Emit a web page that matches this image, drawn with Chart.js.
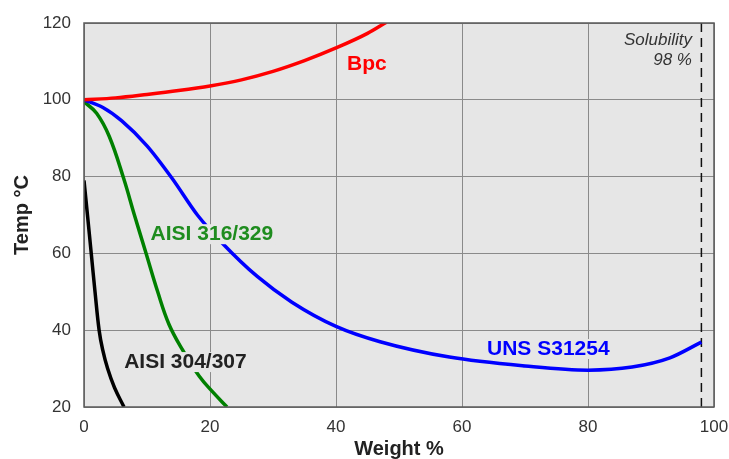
<!DOCTYPE html>
<html>
<head>
<meta charset="utf-8">
<script src="https://cdn.jsdelivr.net/npm/chart.js@4"></script>
<style>
  html, body { margin: 0; padding: 0; background: #fff; }
  #wrap { width: 729px; height: 459px; }
</style>
</head>
<body>
<div id="wrap"><canvas id="chart"></canvas></div>
<script>
// curves, [weight %, temp °C]
const bpc = [[0, 100], [5, 100.5], [10, 101.4], [15, 102.4], [20, 103.6], [25, 105.2], [30, 107.4], [35, 110.2], [40, 113.5], [45, 117.3], [48, 120.2]];
const uns = [[0, 100], [3, 98], [6, 94.5], [10, 88], [14, 79.5], [18, 70], [22, 62.6], [27.5, 54], [33, 47.3], [40, 41], [47, 37], [58, 33], [70, 30.7], [80, 29.6], [87, 30.4], [93, 32.8], [98, 36.9]];
const aisi316 = [[0, 99.5], [2, 96.5], [4, 90.5], [6.3, 79.5], [8, 70], [9.8, 60.3], [11.7, 50], [13.5, 41.5], [15.6, 35], [18.3, 28], [20.5, 23.8], [22.7, 20]];
const aisi304 = [[0, 79], [0.55, 70], [1.15, 60], [1.75, 50], [2.4, 40], [2.95, 35], [3.75, 30], [4.85, 25], [6.35, 20]];
const solubility = [[98, 20], [98, 120]];

const xTicks = [0, 20, 40, 60, 80, 100];
const yTicks = [20, 40, 60, 80, 100, 120];

function pts(arr) {
  return arr.map(p => ({ x: p[0], y: p[1] }));
}

// labels on the plot, drawn with a patch of background behind them
const labels = [
  { text: 'Bpc', x: 44.9, y: 109.2, color: '#ff0000' },
  { text: 'AISI 316/329', x: 20.3, y: 65, color: '#1e8c1e' },
  { text: 'UNS S31254', x: 73.7, y: 35.1, color: '#0000ff' },
  { text: 'AISI 304/307', x: 16.1, y: 31.7, color: '#222222' }
];

const plotBg = {
  id: 'plotBg',
  beforeDraw(chart) {
    const { ctx, chartArea: a } = chart;
    ctx.save();
    ctx.fillStyle = '#e6e6e6';
    ctx.fillRect(a.left, a.top, a.right - a.left, a.bottom - a.top);
    ctx.restore();
  },
  afterDatasetsDraw(chart) {
    const { ctx, scales } = chart;
    const a = chart.chartArea;
    ctx.save();
    ctx.font = 'bold 21px "Liberation Sans", Arial, sans-serif';
    ctx.textAlign = 'center';
    ctx.textBaseline = 'middle';
    labels.forEach(l => {
      const px = scales.x.getPixelForValue(l.x);
      const py = scales.y.getPixelForValue(l.y);
      const w = ctx.measureText(l.text).width;
      ctx.fillStyle = '#e6e6e6';
      ctx.fillRect(px - w / 2 - 2, py - 10, w + 4, 20);
      ctx.fillStyle = l.color;
      ctx.fillText(l.text, px, py);
    });
    ctx.font = 'italic 17px "Liberation Sans", Arial, sans-serif';
    ctx.textAlign = 'right';
    ctx.fillStyle = '#333';
    const rx = scales.x.getPixelForValue(96.5);
    ctx.fillText('Solubility', rx, a.top + 17);
    ctx.fillText('98 %', rx, a.top + 37);
    // plot frame
    ctx.strokeStyle = '#5a5a5a';
    ctx.lineWidth = 1.5;
    ctx.strokeRect(a.left, a.top, a.right - a.left, a.bottom - a.top);
    ctx.restore();
  }
};

const line = (data, color, smooth) => ({
  data: pts(data),
  borderColor: color,
  borderWidth: 3.5,
  pointRadius: 0,
  showLine: true,
  fill: false,
  tension: 0.4,
  cubicInterpolationMode: smooth ? 'default' : 'monotone'
});

const tickFont = { size: 17, family: '"Liberation Sans", Arial' };
const titleFont = { size: 20, weight: 'bold', family: '"Liberation Sans", Arial', lineHeight: 1.0 };

const config = {
  type: 'scatter',
  data: {
    datasets: [
      line(bpc, '#ff0000'),
      line(uns, '#0000ff'),
      line(aisi316, '#008000', true),
      line(aisi304, '#000000', true),
      {
        data: pts(solubility),
        borderColor: '#111',
        borderWidth: 1.5,
        borderDash: [9, 6],
        pointRadius: 0,
        showLine: true
      }
    ]
  },
  options: {
    responsive: true,
    maintainAspectRatio: false,
    animation: false,
    layout: { padding: { top: 23, right: 15, left: 0, bottom: 0 } },
    plugins: { legend: { display: false }, tooltip: { enabled: false } },
    scales: {
      x: {
        type: 'linear',
        min: 0,
        max: 100,
        afterBuildTicks: s => { s.ticks = xTicks.map(v => ({ value: v })); },
        afterFit: s => { s.height = 52; s.paddingLeft = 0; s.paddingRight = 0; },
        grid: { color: '#8a8a8a', lineWidth: 1, drawTicks: false },
        border: { display: false },
        ticks: { color: '#333', font: tickFont, padding: 10, maxRotation: 0 },
        title: {
          display: true,
          text: 'Weight %',
          color: '#222',
          font: titleFont,
          padding: { top: 0, bottom: 0 }
        }
      },
      y: {
        min: 20,
        max: 120,
        afterBuildTicks: s => { s.ticks = yTicks.map(v => ({ value: v })); },
        afterFit: s => { s.width = 84; s.paddingTop = 0; s.paddingBottom = 0; },
        grid: { color: '#8a8a8a', lineWidth: 1, drawTicks: false },
        border: { display: false },
        ticks: { color: '#333', font: tickFont, padding: 13 },
        title: {
          display: true,
          text: 'Temp °C',
          color: '#222',
          font: titleFont,
          padding: { top: 12, bottom: 0 }
        }
      }
    }
  },
  plugins: [plotBg]
};

const myChart = new Chart(document.getElementById('chart'), config);
</script>
</body>
</html>
